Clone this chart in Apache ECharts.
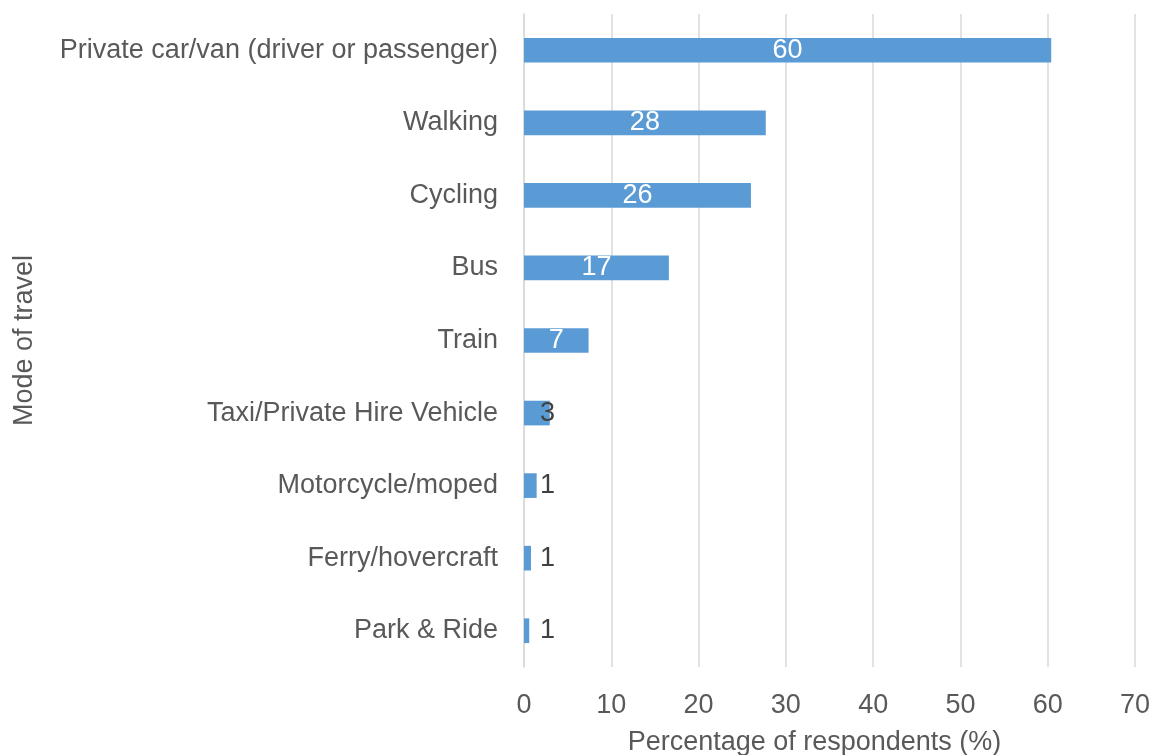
<!DOCTYPE html>
<html>
<head>
<meta charset="utf-8">
<script src="https://cdn.jsdelivr.net/npm/echarts@6/dist/echarts.min.js"></script>
<style>
  html, body { margin: 0; padding: 0; background: #ffffff; }
  #chart { width: 1154px; height: 755px; }
</style>
</head>
<body>
<div id="chart"></div>
<script>
// Modes of travel, listed top to bottom
const modes = [
  'Private car/van (driver or passenger)',
  'Walking',
  'Cycling',
  'Bus',
  'Train',
  'Taxi/Private Hire Vehicle',
  'Motorcycle/moped',
  'Ferry/hovercraft',
  'Park & Ride'
];
// Share of respondents using each mode (%)
const shares = [60.4, 27.7, 26.0, 16.6, 7.4, 2.95, 1.45, 0.8, 0.6];
const xTicks = [0, 10, 20, 30, 40, 50, 60, 70];

const FONT = '"Liberation Sans", Arial, sans-serif';
const SIZE = 27;
const GREY = '#595959';
const BAR = '#5b9bd5';

// Category axis runs bottom-up, so reverse to keep the first mode on top
const cats = modes.slice().reverse();
const vals = shares.slice().reverse();

const seriesData = vals.map(function (v) {
  const small = v < 5;
  return {
    value: v,
    label: small
      ? { position: 'insideLeft', distance: 16, color: '#404040' }
      : { position: 'inside', color: '#ffffff' }
  };
});

const chart = echarts.init(document.getElementById('chart'), null, { renderer: 'canvas' });
chart.setOption({
  backgroundColor: '#ffffff',
  animation: false,
  grid: {
    left: 524, right: 19, top: 14, bottom: 88,
    containLabel: false,
    outerBoundsMode: 'none'
  },
  xAxis: {
    type: 'value',
    min: xTicks[0],
    max: xTicks[xTicks.length - 1],
    interval: 10,
    axisLine: { show: false },
    axisTick: { show: false },
    splitLine: { show: true, lineStyle: { color: '#d9d9d9', width: 1.5 } },
    axisLabel: { color: GREY, fontFamily: FONT, fontSize: SIZE, margin: 25 },
    name: 'Percentage of respondents (%)',
    nameLocation: 'middle',
    nameGap: 62,
    nameTextStyle: { color: GREY, fontFamily: FONT, fontSize: SIZE, padding: [0, 30, 0, 0] }
  },
  yAxis: {
    type: 'category',
    data: cats,
    axisLine: { show: true, lineStyle: { color: '#d9d9d9', width: 1.5 } },
    axisTick: { show: false },
    axisLabel: { color: GREY, fontFamily: FONT, fontSize: SIZE, margin: 26 },
    name: 'Mode of travel',
    nameLocation: 'middle',
    nameGap: 486,
    nameRotate: 90,
    nameTextStyle: { color: GREY, fontFamily: FONT, fontSize: SIZE }
  },
  series: [{
    type: 'bar',
    data: seriesData,
    barWidth: '34%',
    itemStyle: { color: BAR },
    label: {
      show: true,
      fontFamily: FONT,
      fontSize: SIZE,
      formatter: function (p) { return String(Math.round(p.value)); }
    }
  }]
});
</script>
</body>
</html>
